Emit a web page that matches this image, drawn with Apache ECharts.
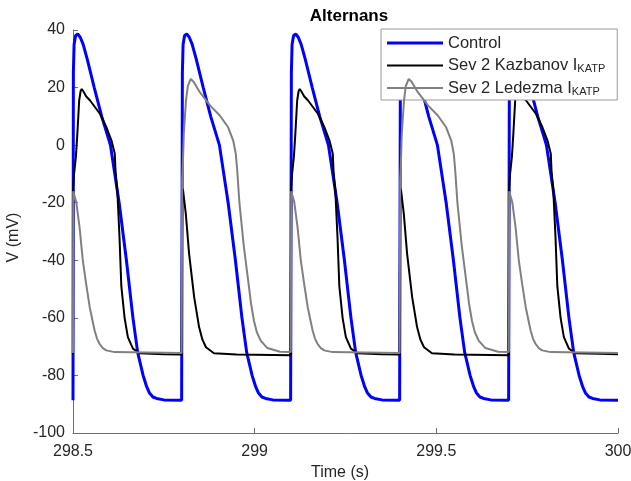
<!DOCTYPE html>
<html>
<head>
<meta charset="utf-8">
<title>Alternans</title>
<script src="https://cdn.jsdelivr.net/npm/echarts@6/dist/echarts.min.js"></script>
<style>
  html, body { margin: 0; padding: 0; background: #fff; }
  #chart { width: 631px; height: 481px; }
</style>
</head>
<body>
<div id="chart"></div>
<script>
// tick labels
const xTicks = [298.5, 299, 299.5, 300]
const yTicks = [-100, -80, -60, -40, -20, 0, 20, 40]

// Control
const controlT = [
  298.5, 298.501, 298.503, 298.507, 298.513, 298.52, 298.528, 298.539, 298.5585, 298.579, 298.603, 298.627, 298.647, 298.665, 298.678, 298.693, 298.703, 298.71, 298.72, 298.73, 298.75, 298.799,
  298.8, 298.801, 298.803, 298.807, 298.813, 298.82, 298.828, 298.839, 298.8585, 298.879, 298.903, 298.927, 298.947, 298.965, 298.978, 298.993, 299.003, 299.01, 299.02, 299.03, 299.05, 299.099,
  299.1, 299.101, 299.103, 299.107, 299.113, 299.12, 299.128, 299.139, 299.1585, 299.179, 299.203, 299.227, 299.247, 299.265, 299.278, 299.293, 299.303, 299.31, 299.32, 299.33, 299.35, 299.399,
  299.4, 299.401, 299.403, 299.407, 299.413, 299.42, 299.428, 299.439, 299.4585, 299.479, 299.503, 299.527, 299.547, 299.565, 299.578, 299.593, 299.603, 299.61, 299.62, 299.63, 299.65, 299.699,
  299.7, 299.701, 299.703, 299.707, 299.713, 299.72, 299.728, 299.739, 299.7585, 299.779, 299.803, 299.827, 299.847, 299.865, 299.878, 299.893, 299.903, 299.91, 299.92, 299.93, 299.95, 300
]
const controlV = [
  -88.6, 25, 35, 38, 38.6, 37.5, 35, 30, 20, 10, 0, -20, -40, -60, -72, -80, -84, -86, -87.5, -88, -88.5, -88.6,
  -88.6, 25, 35, 38, 38.6, 37.5, 35, 30, 20, 10, 0, -20, -40, -60, -72, -80, -84, -86, -87.5, -88, -88.5, -88.6,
  -88.6, 25, 35, 38, 38.6, 37.5, 35, 30, 20, 10, 0, -20, -40, -60, -72, -80, -84, -86, -87.5, -88, -88.5, -88.6,
  -88.6, 25, 35, 38, 38.6, 37.5, 35, 30, 20, 10, 0, -20, -40, -60, -72, -80, -84, -86, -87.5, -88, -88.5, -88.6,
  -88.6, 25, 35, 38, 38.6, 37.5, 35, 30, 20, 10, 0, -20, -40, -60, -72, -80, -84, -86, -87.5, -88, -88.5, -88.6
]

// Sev 2 Kazbanov IKATP
const kazbanovT = [
  298.5, 298.5005, 298.503, 298.508, 298.512, 298.517, 298.521, 298.524, 298.528, 298.536, 298.547, 298.574, 298.592, 298.606, 298.615, 298.617, 298.622, 298.628, 298.633, 298.642, 298.651, 298.665, 298.683, 298.75, 298.799,
  298.8, 298.8005, 298.803, 298.8105, 298.8195, 298.8335, 298.847, 298.856, 298.866, 298.888, 298.95, 299.099,
  299.1, 299.1005, 299.103, 299.108, 299.112, 299.117, 299.121, 299.124, 299.128, 299.136, 299.147, 299.174, 299.192, 299.206, 299.215, 299.217, 299.222, 299.228, 299.233, 299.242, 299.251, 299.265, 299.283, 299.35, 299.399,
  299.4, 299.4005, 299.403, 299.4105, 299.4195, 299.4335, 299.447, 299.456, 299.466, 299.488, 299.55, 299.699,
  299.7, 299.7005, 299.703, 299.708, 299.712, 299.717, 299.721, 299.724, 299.728, 299.736, 299.747, 299.774, 299.792, 299.806, 299.815, 299.817, 299.822, 299.828, 299.833, 299.842, 299.851, 299.865, 299.883, 299.95, 300
]
const kazbanovV = [
  -72.6, -15, -10, -4, 4, 15.5, 18.8, 19.5, 18.8, 17, 15.5, 10.9, 6.2, 1.6, -3, -8.8, -15.8, -32, -49, -60, -66.7, -70.7, -72.3, -72.6, -72.7,
  -72.7, -15, -15.8, -23.9, -37.7, -52.8, -63.2, -67.5, -70.2, -72.3, -72.7, -73,
  -73, -15, -10, -4, 4, 15.5, 18.8, 19.5, 18.8, 17, 15.5, 10.9, 6.2, 1.6, -3, -8.8, -15.8, -32, -49, -60, -66.7, -70.7, -72.3, -72.6, -72.7,
  -72.7, -15, -15.8, -23.9, -37.7, -52.8, -63.2, -67.5, -70.2, -72.3, -72.7, -73,
  -73, -15, -10, -4, 4, 15.5, 18.8, 19.5, 18.8, 17, 15.5, 10.9, 6.2, 1.6, -3, -8.8, -15.8, -32, -49, -60, -66.7, -70.7, -72.3, -72.5, -72.6
]

// Sev 2 Ledezma IKATP
const ledezmaT = [
  298.5, 298.5005, 298.5046, 298.509, 298.518, 298.527, 298.536, 298.546, 298.5595, 298.566, 298.573, 298.582, 298.5915, 298.6145, 298.799,
  298.8, 298.8005, 298.802, 298.805, 298.811, 298.816, 298.824, 298.832, 298.849, 298.877, 298.904, 298.927, 298.941, 298.948, 298.952, 298.958, 298.97, 298.98, 298.99, 298.998, 299.006, 299.017, 299.035, 299.07, 299.0995,
  299.1, 299.1005, 299.1046, 299.109, 299.118, 299.127, 299.136, 299.146, 299.1595, 299.166, 299.173, 299.182, 299.1915, 299.2145, 299.399,
  299.4, 299.4005, 299.402, 299.405, 299.411, 299.416, 299.424, 299.432, 299.449, 299.477, 299.504, 299.527, 299.541, 299.548, 299.552, 299.558, 299.57, 299.58, 299.59, 299.598, 299.606, 299.617, 299.635, 299.67, 299.6995,
  299.7, 299.7005, 299.7046, 299.709, 299.718, 299.727, 299.736, 299.746, 299.7595, 299.766, 299.773, 299.782, 299.7915, 299.8145, 300
]
const ledezmaV = [
  -72.2, -16, -16.4, -19.8, -28.5, -40, -48, -56.3, -64.4, -67.2, -69, -70.5, -71.3, -71.9, -72.2,
  -72.2, -12, -8, 4, 15.5, 20.5, 23, 22, 18.4, 13.8, 10.3, 6.2, 1.6, -3, -8.8, -20, -35, -45, -55, -61, -65, -68, -70.5, -71.8, -71.9,
  -71.9, -16, -16.4, -19.8, -28.5, -40, -48, -56.3, -64.4, -67.2, -69, -70.5, -71.3, -71.9, -72.2,
  -72.2, -12, -8, 4, 15.5, 20.5, 23, 22, 18.4, 13.8, 10.3, 6.2, 1.6, -3, -8.8, -20, -35, -45, -55, -61, -65, -68, -70.5, -71.8, -71.9,
  -71.9, -16, -16.4, -19.8, -28.5, -40, -48, -56.3, -64.4, -67.2, -69, -70.5, -71.3, -71.9, -72.2
]

const FONT = '"Liberation Sans", Arial, Helvetica, sans-serif'
const AXIS_GRAY = '#6f6f6f'
const TEXT_DARK = '#262626'

const pairs = (ts, vs) => ts.map((t, i) => [t, vs[i]])

const chart = echarts.init(document.getElementById('chart'), null, { renderer: 'canvas' })

const option = {
  animation: false,
  backgroundColor: '#fff',
  textStyle: { fontFamily: FONT },
  title: {
    text: 'Alternans',
    left: 344,
    textAlign: 'center',
    top: 3,
    textStyle: { fontFamily: FONT, fontSize: 17, fontWeight: 'bold', color: '#000' }
  },
  grid: { left: 73, right: 13, top: 30, bottom: 48, outerBoundsMode: 'none' },
  legend: {
    orient: 'vertical',
    left: 381,
    top: 29,
    padding: [5, 12, 3, 6],
    itemWidth: 56,
    itemHeight: 14,
    itemGap: 4.5,
    backgroundColor: '#fff',
    borderColor: '#9a9a9a',
    borderWidth: 1,
    borderRadius: 0,
    selectedMode: false,
    itemStyle: { borderWidth: 0 },
    data: [
      { name: 'Control', icon: 'path://M0,0H56V3H0Z' },
      { name: 'Sev 2 Kazbanov I_KATP', icon: 'path://M0,0H56V2H0Z' },
      { name: 'Sev 2 Ledezma I_KATP', icon: 'path://M0,0H56V2H0Z' }
    ],
    formatter: name => name.replace(/ I_KATP$/, ' I{s|KATP}'),
    textStyle: {
      fontFamily: FONT,
      fontSize: 16.5,
      lineHeight: 18,
      color: TEXT_DARK,
      rich: {
        s: { fontFamily: FONT, fontSize: 11, lineHeight: 10, verticalAlign: 'bottom', color: TEXT_DARK }
      }
    }
  },
  xAxis: {
    type: 'value',
    min: xTicks[0],
    max: xTicks[xTicks.length - 1],
    interval: 0.5,
    name: 'Time (s)',
    nameLocation: 'middle',
    nameGap: 28,
    nameTextStyle: { fontFamily: FONT, fontSize: 16, color: TEXT_DARK, padding: [0, 11, 0, 0] },
    axisLine: { show: true, onZero: false, lineStyle: { color: AXIS_GRAY, width: 1 } },
    axisTick: { show: true, inside: true, length: 5, lineStyle: { color: AXIS_GRAY } },
    axisLabel: { fontFamily: FONT, fontSize: 16, color: TEXT_DARK, margin: 11 },
    splitLine: { show: false }
  },
  yAxis: {
    type: 'value',
    min: yTicks[0],
    max: yTicks[yTicks.length - 1],
    interval: 20,
    name: 'V (mV)',
    nameLocation: 'middle',
    nameGap: 49,
    nameTextStyle: { fontFamily: FONT, fontSize: 16, color: TEXT_DARK, padding: [0, 12, 0, 0] },
    axisLine: { show: true, onZero: false, lineStyle: { color: AXIS_GRAY, width: 1 } },
    axisTick: { show: true, inside: true, length: 5, lineStyle: { color: AXIS_GRAY } },
    axisLabel: { fontFamily: FONT, fontSize: 16, color: TEXT_DARK, margin: 8 },
    splitLine: { show: false }
  },
  series: [
    {
      name: 'Control',
      type: 'line',
      symbol: 'none',
      showSymbol: false,
      color: '#0000ff',
      lineStyle: { color: '#0000ff', width: 3 },
      data: pairs(controlT, controlV),
      z: 2
    },
    {
      name: 'Sev 2 Kazbanov I_KATP',
      type: 'line',
      symbol: 'none',
      showSymbol: false,
      color: '#000000',
      lineStyle: { color: '#000000', width: 2 },
      data: pairs(kazbanovT, kazbanovV),
      z: 3
    },
    {
      name: 'Sev 2 Ledezma I_KATP',
      type: 'line',
      symbol: 'none',
      showSymbol: false,
      color: '#808080',
      lineStyle: { color: '#808080', width: 2 },
      data: pairs(ledezmaT, ledezmaV),
      z: 4
    }
  ]
}

chart.setOption(option)
</script>
</body>
</html>
